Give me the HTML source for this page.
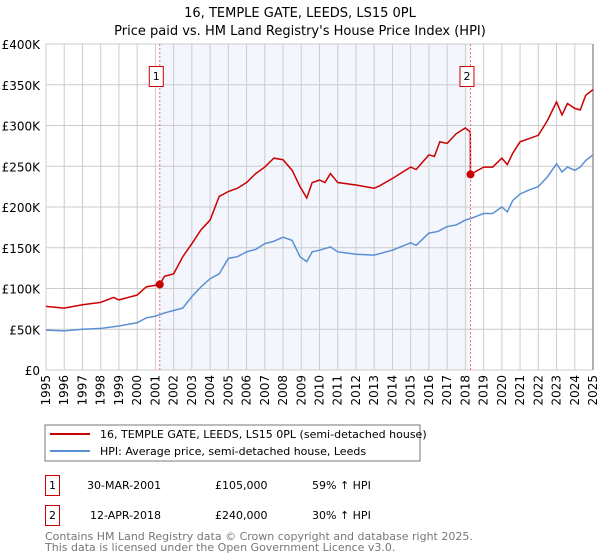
<!DOCTYPE html>
<html><head><meta charset="utf-8"><style>
body{margin:0;background:#fff;font-family:"DejaVu Sans","Liberation Sans",sans-serif;}
#wrap{position:relative;width:600px;height:560px;overflow:hidden}
</style></head><body><div id="wrap">
<svg id="chart" width="600" height="560" xmlns="http://www.w3.org/2000/svg" font-family="DejaVu Sans, Liberation Sans, sans-serif">
<text x="300" y="17" text-anchor="middle" font-size="13">16, TEMPLE GATE, LEEDS, LS15 0PL</text>
<text x="300" y="35" text-anchor="middle" font-size="13">Price paid vs. HM Land Registry's House Price Index (HPI)</text>
<g id="grid"></g><g id="marks"></g><g id="axes"></g>
<rect x="45" y="425" width="375" height="36" fill="#fff" stroke="#777"/>
<line x1="50" y1="434" x2="90" y2="434" stroke="#cc0000" stroke-width="2"/>
<text x="100" y="438" font-size="11">16, TEMPLE GATE, LEEDS, LS15 0PL (semi-detached house)</text>
<line x1="50" y1="451" x2="90" y2="451" stroke="#5b8fd4" stroke-width="2"/>
<text x="100" y="455" font-size="11">HPI: Average price, semi-detached house, Leeds</text>
<g font-size="11">
<rect x="45.5" y="475.5" width="14" height="20" fill="none" stroke="#cc0000"/>
<text x="52.5" y="489" text-anchor="middle">1</text>
<text x="87" y="489">30-MAR-2001</text>
<text x="215" y="489">£105,000</text>
<text x="312" y="489">59% ↑ HPI</text>
<rect x="45.5" y="505.5" width="14" height="20" fill="none" stroke="#cc0000"/>
<text x="52.5" y="519" text-anchor="middle">2</text>
<text x="90" y="519">12-APR-2018</text>
<text x="215" y="519">£240,000</text>
<text x="312" y="519">30% ↑ HPI</text>
</g>
<text x="45" y="540" font-size="11" fill="#777">Contains HM Land Registry data © Crown copyright and database right 2025.</text>
<text x="45" y="551" font-size="11" fill="#777">This data is licensed under the Open Government Licence v3.0.</text>
</svg></div>
<script>
const hpiYears=[1995,1996,1997,1998,1999,2000,2000.5,2001,2001.5,2002,2002.5,2003,2003.5,2004,2004.5,2005,2005.5,2006,2006.5,2007,2007.5,2008,2008.5,2008.93,2009.3,2009.6,2010,2010.6,2011,2012,2013,2014,2015,2015.3,2016,2016.5,2017,2017.5,2018,2018.3,2019,2019.5,2020,2020.3,2020.6,2021,2021.5,2022,2022.5,2023,2023.3,2023.6,2024,2024.3,2024.6,2025];
const hpiValues=[49,48,50,51,54,58,64,66,70,73,76,90,102,112,118,137,139,145,148,155,158,163,159,139,133,145,147,151,145,142,141,147,156,153,168,170,176,178,184,186,192,192,200,194,208,216,221,225,237,253,243,249,245,249,257,264];
const priceYears=[1995,1996,1997,1998,1998.7,1999,2000,2000.5,2001,2001.24,2001.5,2002,2002.5,2003,2003.5,2004,2004.5,2005,2005.5,2006,2006.5,2007,2007.5,2008,2008.5,2008.93,2009.3,2009.6,2010,2010.3,2010.6,2011,2012,2013,2013.3,2014,2014.5,2015,2015.3,2016,2016.3,2016.6,2017,2017.5,2018,2018.27,2018.28,2019,2019.5,2020,2020.3,2020.6,2021,2021.5,2022,2022.5,2023,2023.3,2023.6,2024,2024.3,2024.6,2025];
const priceValues=[78,76,80,83,89,86,92,102,104,105,115,118,139,155,172,184,213,219,223,230,241,249,260,258,245,225,211,230,233,230,241,230,227,223,226,235,242,249,246,264,262,280,278,290,297,292,240,249,249,260,252,266,280,284,288,306,329,313,327,321,319,337,344];
const saleYears=[2001.24,2018.28];
const saleValues=[105,240];
const saleLabels=["1","2"];
const yTicks=[0,50,100,150,200,250,300,350,400];
const yTickLabels=["£0","£50K","£100K","£150K","£200K","£250K","£300K","£350K","£400K"];
const xTicks=[1995,1996,1997,1998,1999,2000,2001,2002,2003,2004,2005,2006,2007,2008,2009,2010,2011,2012,2013,2014,2015,2016,2017,2018,2019,2020,2021,2022,2023,2024,2025];

const NS="http://www.w3.org/2000/svg";
const L=46,R=593,T=44,B=370;
const xs=y=>L+(y-1995)/30*(R-L);
const ys=v=>B-v/400*(B-T);
function mk(tag,attrs,parent){const e=document.createElementNS(NS,tag);for(const k in attrs)e.setAttribute(k,attrs[k]);document.getElementById(parent).appendChild(e);return e;}
const s=mk('rect',{x:xs(saleYears[0]),y:T,width:xs(saleYears[1])-xs(saleYears[0]),height:B-T,fill:'#f3f6fd'},'grid');


yTicks.forEach((v,i)=>{
 const l=mk('line',{x1:L,x2:R,y1:ys(v),y2:ys(v),stroke:'#ccc'},'grid');
 
 
 const t=mk('text',{x:40,y:ys(v)+5,'text-anchor':'end','font-size':'12'},'axes');
 t.textContent=yTickLabels[i];
 
 
});
xTicks.forEach(y=>{
 const l=mk('line',{x1:xs(y),x2:xs(y),y1:T,y2:B,stroke:'#ccc'},'grid');
 
 
 const t=mk('text',{x:0,y:0,'text-anchor':'end','font-size':'12',transform:`translate(${xs(y)+4},${B+5}) rotate(-90)`},'axes');
 t.textContent=y;
 
 
});
const re=mk('line',{x1:R,x2:R,y1:T,y2:B,stroke:'#999','stroke-width':1.5},'grid');


const hp=mk('polyline',{points:hpiYears.map((y,i)=>xs(y)+','+ys(hpiValues[i])).join(' '),fill:'none',stroke:'#5b8fd4','stroke-width':1.5},'marks');


const pp=mk('polyline',{points:priceYears.map((y,i)=>xs(y)+','+ys(priceValues[i])).join(' '),fill:'none',stroke:'#cc0000','stroke-width':1.5},'marks');


saleYears.forEach((y,i)=>{
 const v=mk('line',{x1:xs(y),x2:xs(y),y1:T,y2:B,stroke:'#ff6666','stroke-dasharray':'2,2'},'marks');
 
 
 const c=mk('circle',{cx:xs(y),cy:ys(saleValues[i]),r:4,fill:'#cc0000'},'marks');
 
 
 const b=mk('rect',{x:xs(y)-10.5,y:66.5,width:14,height:20,fill:'#fff',stroke:'#cc0000'},'marks');
 
 
 const t=mk('text',{x:xs(y)-3.5,y:80,'text-anchor':'middle','font-size':'11'},'marks');
 t.textContent=saleLabels[i];
 
 
});
</script></body></html>
